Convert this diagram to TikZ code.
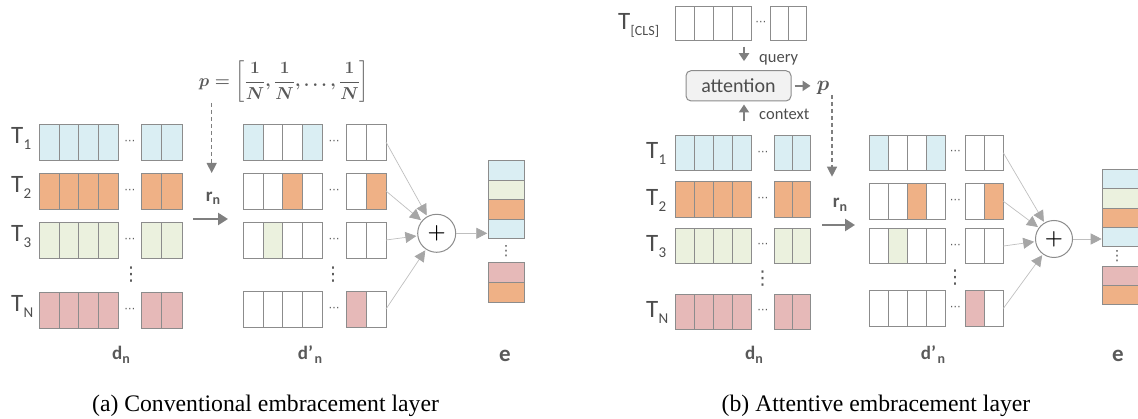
\documentclass[tikz,border=0pt]{standalone}
\usepackage[no-math]{fontspec}
\setmainfont{Carlito}
\newfontfamily\capfont{Liberation Serif}
\newfontfamily\djv{DejaVu Sans}
\usepackage{amsmath,bm}
\usetikzlibrary{arrows.meta,calc}
\definecolor{cblue}{HTML}{DAEEF3}
\definecolor{corange}{HTML}{EFB186}
\definecolor{cgreen}{HTML}{EBF1DE}
\definecolor{cpink}{HTML}{E6B9B8}
\definecolor{cborder}{HTML}{8C8C8C}
\definecolor{tgray}{HTML}{4D4D4D}
\definecolor{lgray}{HTML}{595959}
\definecolor{dgray}{HTML}{595959}
\definecolor{agray}{HTML}{7F7F7F}
\definecolor{sline}{HTML}{BFBFBF}
\definecolor{shead}{HTML}{A6A6A6}
\definecolor{attfill}{HTML}{F2F2F2}
\newcommand\Tsub[1]{T\kern0.3pt\raisebox{-6pt}{\fontsize{15}{15}\selectfont #1}}
\newcommand\bsub[1]{\raisebox{-3.3pt}{\fontsize{14}{14}\selectfont\bfseries #1}}
\tikzset{
 cell/.style={draw=cborder, line width=0.9pt, inner sep=0pt, outer sep=0pt},
 hdots/.style={text=dgray, font=\djv\fontsize{11}{11}\selectfont, inner sep=0pt},
 vdotn/.style={text=dgray, font=\djv\fontsize{19}{19}\selectfont, inner sep=0pt},
 tlab/.style={text=tgray, font=\fontsize{25}{25}\selectfont, inner sep=0pt},
 blab/.style={text=lgray, font=\fontsize{19}{19}\selectfont\bfseries, inner sep=0pt},
 elab/.style={text=lgray, font=\fontsize{23}{23}\selectfont\bfseries, inner sep=0pt},
 formula/.style={text=lgray, inner sep=0pt, font=\fontsize{16.5}{20}\selectfont},
 sumc/.style={circle, draw=cborder, line width=1pt, fill=white, minimum size=38pt, inner sep=0pt, font=\fontsize{22}{22}\selectfont},
 sumarrow/.style={draw=sline, line width=0.7pt, -{Triangle[length=11pt,width=11pt,color=shead]}, shorten >=1pt},
 garrow/.style={draw=agray, line width=2.4pt, -{Triangle[length=10pt,width=12pt]}},
 garrowt/.style={draw=agray, line width=2pt, -{Triangle[length=8pt,width=10pt]}},
 dasharrow/.style={draw=agray, line width=1.3pt, dash pattern=on 4pt off 3pt, -{Triangle[length=10pt,width=10pt]}},
 attbox/.style={draw=cborder, fill=attfill, rounded corners=5pt, line width=1pt, minimum width=105pt, minimum height=30.3pt, inner sep=0pt, text=tgray, font=\fontsize{20}{20}\selectfont},
 smalllab/.style={text=tgray, font=\fontsize{16.5}{16.5}\selectfont, inner sep=0pt},
 captext/.style={font=\capfont\fontsize{23.7}{26}\selectfont, inner sep=0pt},
}
% #1 name, #2 ytop, #3 height, #4 x block1, #5 w1, #6 x block2, #7 w2, #8 colours
\newcommand\cellrow[8]{%
 \foreach \cc [count=\i] in {#8}{%
   \ifnum\i<5
     \pgfmathsetmacro\xx{#4+(\i-1)*#5}\pgfmathsetmacro\ww{#5}%
   \else
     \pgfmathsetmacro\xx{#6+(\i-5)*#7}\pgfmathsetmacro\ww{#7}%
   \fi
   \node[cell, fill=\cc, minimum width=\ww pt, minimum height=#3pt, anchor=north west] (#1-\i) at (\xx,#2) {};
 }
 \node[hdots] (#1-d) at ($(#1-4.east)!0.5!(#1-5.west)$) {⋯};
}
\begin{document}
\begin{tikzpicture}[x=1pt,y=-1pt]
\useasboundingbox (0,0) rectangle (1138,419);
% ================= (a) =================
\cellrow{a1}{124}{36}{39.3}{19.75}{141.3}{20.35}{cblue,cblue,cblue,cblue,cblue,cblue}
\cellrow{a2}{173}{36}{39.3}{19.75}{141.3}{20.35}{corange,corange,corange,corange,corange,corange}
\cellrow{a3}{222}{36}{39.3}{19.75}{141.3}{20.35}{cgreen,cgreen,cgreen,cgreen,cgreen,cgreen}
\cellrow{aN}{292}{36}{39.3}{19.75}{141.3}{20.35}{cpink,cpink,cpink,cpink,cpink,cpink}
\node[vdotn] (a-vd) at (131,274.5) {⋮};
\node[tlab, anchor=base west] (a1-l) at (11,144) {\Tsub{1}};
\node[tlab, anchor=base west] (a2-l) at (11,193) {\Tsub{2}};
\node[tlab, anchor=base west] (a3-l) at (11,242) {\Tsub{3}};
\node[tlab, anchor=base west] (aN-l) at (11,312) {\Tsub{N}};

\cellrow{ap1}{124}{36}{243.3}{19.75}{346}{20}{cblue,white,white,cblue,white,white}
\cellrow{ap2}{173}{36}{243.3}{19.75}{346}{20}{white,white,corange,white,white,corange}
\cellrow{ap3}{222}{36}{243.3}{19.75}{346}{20}{white,cgreen,white,white,white,white}
\cellrow{apN}{291}{36}{243.3}{19.75}{346}{20}{white,white,white,white,cpink,white}
\node[vdotn] (ap-vd) at (333,274.5) {⋮};

\node[sumc] (asum) at (436.7,233.3) {$\bm{+}$};
\foreach \r in {ap1,ap2,ap3,apN} \draw[sumarrow] (\r-6.east) -- (asum);

\foreach \cc [count=\i] in {cblue,cgreen,corange,cblue}
  \node[cell, fill=\cc, minimum width=36pt, minimum height=19.6pt, anchor=north west] (ae\i) at (488.3,{160.5+(\i-1)*19.6}) {};
\foreach \cc [count=\i from 5] in {cpink,corange}
  \node[cell, fill=\cc, minimum width=36pt, minimum height=20.1pt, anchor=north west] (ae\i) at (488.3,{262.5+(\i-5)*20.1}) {};
\node[vdotn, font=\djv\fontsize{14}{14}\selectfont] (ae-vd) at (506,251.5) {⋮};
\draw[sumarrow] (asum.east) -- (asum.east -| ae4.west);

\node[formula] (pa) at (284,82) {{\boldmath$p=\left[\dfrac{1}{N},\dfrac{1}{N},\dots,\dfrac{1}{N}\right]$}};
\coordinate (pa-tip) at (211.7,173);
\draw[dasharrow] (pa-tip |- pa.south) -- (pa-tip);
\node[blab, anchor=base] (ra) at (213,201.7) {r\bsub{n}};
\coordinate (ra-s) at (193,219);
\coordinate (ra-e) at (228,219);
\draw[garrow] (ra-s) -- (ra-e);

\node[blab, anchor=base] (a-dl) at (121,360) {d\bsub{n}};
\node[blab, anchor=base] (a-dpl) at (310,360) {d’\kern1.5pt\bsub{n}};
\node[elab, anchor=base] (a-el) at (505,362) {e};
\node[captext, anchor=base] (capa) at (265.5,411.7) {(a) Conventional embracement layer};

% ================= (b) =================
\node[tlab, anchor=base west] (bc-l) at (618,30) {T\kern0.3pt\raisebox{-6pt}{\fontsize{14}{14}\selectfont [CLS]}};
\cellrow{bc}{6}{34.7}{675}{19.17}{770}{18.35}{white,white,white,white,white,white}
\node[attbox] (att) at (738.5,85.85) {attention};
\draw[garrowt, shorten <=6pt, shorten >=9pt] ([xshift=5.5pt]att.north |- bc-1.south) -- ([xshift=5.5pt]att.north);
\node[smalllab, anchor=base west] (q) at (759,62.5) {query};
\node[formula, font=\fontsize{20}{20}\selectfont] (pb) at (823,88) {{\boldmath$p$}};
\draw[garrowt, shorten <=3pt, shorten >=6pt] (att.east) -- (att.east -| pb.west);

\cellrow{b1}{135.3}{35.5}{675}{19.17}{774}{18.35}{cblue,cblue,cblue,cblue,cblue,cblue}
\cellrow{b2}{181.5}{35.5}{675}{19.17}{774}{18.35}{corange,corange,corange,corange,corange,corange}
\cellrow{b3}{228}{35.5}{675}{19.17}{774}{18.35}{cgreen,cgreen,cgreen,cgreen,cgreen,cgreen}
\cellrow{bN}{294}{35.5}{675}{19.17}{774}{18.35}{cpink,cpink,cpink,cpink,cpink,cpink}
\node[vdotn] (b-vd) at (762.7,278.5) {⋮};
\node[tlab, anchor=base west] (b1-l) at (646,159) {\Tsub{1}};
\node[tlab, anchor=base west] (b2-l) at (646,205.5) {\Tsub{2}};
\node[tlab, anchor=base west] (b3-l) at (646,252) {\Tsub{3}};
\node[tlab, anchor=base west] (bN-l) at (646,317.5) {\Tsub{N}};

\draw[garrowt, shorten <=14pt, shorten >=3pt] ([xshift=5.5pt]att.south |- b1-1.north) -- ([xshift=5.5pt]att.south);
\node[smalllab, anchor=base west] (ctx) at (759,120) {context};

\coordinate (pb-tip) at (832,176.7);
\draw[dasharrow] (pb-tip |- pb.south) -- (pb-tip);
\node[blab, anchor=base] (rb) at (840,208) {r\bsub{n}};
\coordinate (rb-s) at (822,225);
\coordinate (rb-e) at (855,225);
\draw[garrow] (rb-s) -- (rb-e);

\cellrow{bp1}{135}{35.5}{869}{19.17}{965}{19.15}{cblue,white,white,cblue,white,white}
\cellrow{bp2}{183.5}{35.5}{869}{19.17}{965}{19.15}{white,white,corange,white,white,corange}
\cellrow{bp3}{228.3}{35.5}{869}{19.17}{965}{19.15}{white,cgreen,white,white,white,white}
\cellrow{bpN}{290.7}{35.5}{869}{19.17}{965}{19.15}{white,white,white,white,cpink,white}
\node[vdotn] (bp-vd) at (955,277.5) {⋮};

\node[sumc, minimum size=37pt] (bsum) at (1054,239) {$\bm{+}$};
\foreach \r in {bp1,bp2,bp3,bpN} \draw[sumarrow] (\r-6.east) -- (bsum);

\foreach \cc [count=\i] in {cblue,cgreen,corange,cblue}
  \node[cell, fill=\cc, minimum width=35.3pt, minimum height=19.35pt, anchor=north west] (be\i) at (1102.7,{169.3+(\i-1)*19.35}) {};
\foreach \cc [count=\i from 5] in {cpink,corange}
  \node[cell, fill=\cc, minimum width=35.3pt, minimum height=19.2pt, anchor=north west] (be\i) at (1102.7,{266+(\i-5)*19.2}) {};
\node[vdotn, font=\djv\fontsize{14}{14}\selectfont] (be-vd) at (1117,256.5) {⋮};
\draw[sumarrow] (bsum.east) -- (bsum.east -| be4.west);

\node[blab, anchor=base] (b-dl) at (754,360) {d\bsub{n}};
\node[blab, anchor=base] (b-dpl) at (933,360) {d’\kern1.5pt\bsub{n}};
\node[elab, anchor=base] (b-el) at (1118,362) {e};
\node[captext, anchor=base] (capb) at (876,411.7) {(b) Attentive embracement layer};
\end{tikzpicture}
\end{document}
